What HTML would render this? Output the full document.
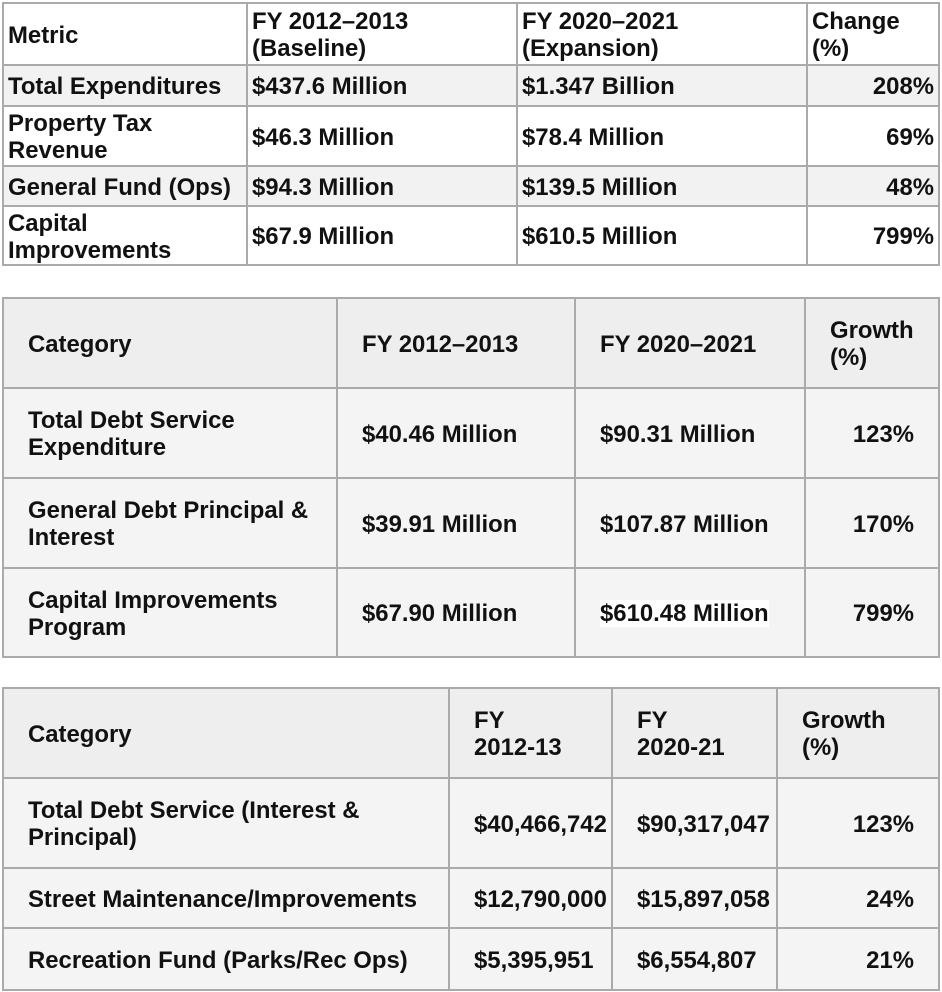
<!DOCTYPE html>
<html><head><meta charset="utf-8"><style>
body{margin:0;width:942px;height:992px;background:#fff;font-family:"Liberation Sans",Arial,sans-serif;font-weight:bold;font-size:23.9px;color:#111;position:relative;overflow:hidden}
.c{position:absolute;box-sizing:border-box;border:2px solid #aaa;display:flex;align-items:center;line-height:27px;margin:-1px 0 0 -1px;white-space:nowrap}
.r{justify-content:flex-end}
.w{background:#fff}.g{background:#f2f2f2}.h{background:#eee}.l{background:#f4f4f4}
</style></head><body>
<script>
function T(cols,rows,data,opts){
 for(let i=0;i<rows.length-1;i++)for(let j=0;j<cols.length-1;j++){
  const d=document.createElement('div');d.className='c '+opts.bg(i)+(j==cols.length-2&&i>0?' r':'');
  d.style.left=cols[j]+'px';d.style.top=rows[i]+'px';d.style.width=(cols[j+1]-cols[j]+2)+'px';d.style.height=(rows[i+1]-rows[i]+2)+'px';
  d.style.padding=opts.pad;d.innerHTML=data[i][j];document.body.appendChild(d);}
}
T([3,247,517,807,939],[3,65,106,166,206,265],[
["Metric","FY 2012–2013<br>(Baseline)","FY 2020–2021<br>(Expansion)","Change<br>(%)"],
["Total Expenditures","$437.6 Million","$1.347 Billion","208%"],
["Property Tax<br>Revenue","$46.3 Million","$78.4 Million","69%"],
["General Fund (Ops)","$94.3 Million","$139.5 Million","48%"],
["Capital<br>Improvements","$67.9 Million","$610.5 Million","799%"]],
{bg:i=>(i==1||i==3)?'g':'w',pad:'2px 4px 0 4px'});
T([3,337,575,805,939],[298,388,478,568,657],[
["Category","FY 2012–2013","FY 2020–2021","Growth<br>(%)"],
["Total Debt Service<br>Expenditure","$40.46 Million","$90.31 Million","123%"],
["General Debt Principal &amp;<br>Interest","$39.91 Million","$107.87 Million","170%"],
["Capital Improvements<br>Program","$67.90 Million","<span style='background:#fff'>$610.48 Million</span>","799%"]],
{bg:i=>i==0?'h':'l',pad:'2px 24px 0 24px'});
T([3,449,612,777,939],[688,778,868,928,990],[
["Category","FY<br>2012-13","FY<br>2020-21","Growth<br>(%)"],
["Total Debt Service (Interest &amp;<br>Principal)","$40,466,742","$90,317,047","123%"],
["Street Maintenance/Improvements","$12,790,000","$15,897,058","24%"],
["Recreation Fund (Parks/Rec Ops)","$5,395,951","$6,554,807","21%"]],
{bg:i=>i==0?'h':'l',pad:'2px 24px 0 24px'});
document.querySelectorAll('.c').forEach(d=>{const t=parseInt(d.style.top);if(t>=778&&!d.classList.contains('r')&&parseInt(d.style.left)>400)d.style.padding='2px 0 0 24px';});
</script>
</body></html>
